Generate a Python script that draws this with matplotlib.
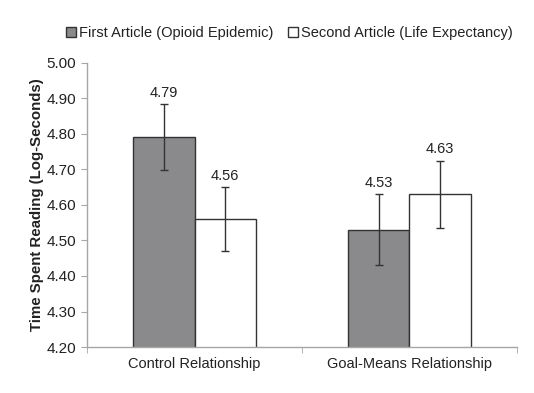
import matplotlib
matplotlib.use("Agg")
import matplotlib.pyplot as plt
import numpy as np

plt.rcParams['font.family'] = ['Liberation Sans', 'DejaVu Sans']

# data
categories = ['Control Relationship', 'Goal-Means Relationship']
series = ['First Article (Opioid Epidemic)', 'Second Article (Life Expectancy)']
first_vals = [4.79, 4.53]
second_vals = [4.56, 4.63]
first_err = [0.093, 0.100]
second_err = [0.090, 0.095]
yticks = [4.20, 4.30, 4.40, 4.50, 4.60, 4.70, 4.80, 4.90, 5.00]

fig = plt.figure(figsize=(5.34, 3.93), dpi=100)
ax = fig.add_axes([0.163, 0.117, 0.805, 0.723])

x = np.arange(len(categories))
w = 0.285
axis_col = '#a6a6a6'
txt_col = '#222222'

ax.bar(x - w/2, first_vals, w, color='#8a8a8c', edgecolor='#333333', linewidth=1.0,
       label=series[0])
ax.bar(x + w/2, second_vals, w, color='white', edgecolor='#333333', linewidth=1.0,
       label=series[1])
ax.errorbar(x - w/2, first_vals, yerr=first_err, fmt='none', ecolor='#333333',
            elinewidth=1.0, capsize=3, capthick=1.0)
ax.errorbar(x + w/2, second_vals, yerr=second_err, fmt='none', ecolor='#333333',
            elinewidth=1.0, capsize=3, capthick=1.0)

for xi, v, e in zip(x - w/2, first_vals, first_err):
    ax.text(xi, v + e + 0.012, f'{v:.2f}', ha='center', va='bottom', fontsize=10.5, color=txt_col)
for xi, v, e in zip(x + w/2, second_vals, second_err):
    ax.text(xi, v + e + 0.012, f'{v:.2f}', ha='center', va='bottom', fontsize=10.5, color=txt_col)

ax.set_ylim(4.20, 5.00)
ax.set_xlim(-0.5, 1.5)
ax.set_yticks(yticks)
ax.set_yticklabels([f'{t:.2f}' for t in yticks], fontsize=11, color=txt_col)
ax.set_xticks(x)
ax.set_xticklabels(categories, fontsize=10.5, color=txt_col)
ax.set_xticks([-0.5, 0.5, 1.5], minor=True)
ax.tick_params(axis='x', which='major', length=0, pad=7)
ax.tick_params(axis='x', which='minor', length=4, direction='out', color=axis_col)
ax.tick_params(axis='y', length=4, color=axis_col, pad=4)

for s in ['top', 'right']:
    ax.spines[s].set_visible(False)
for s in ['left', 'bottom']:
    ax.spines[s].set_color(axis_col)
    ax.spines[s].set_linewidth(1.0)

ax.set_ylabel('Time Spent Reading (Log-Seconds)', fontsize=10.8, fontweight='bold',
              color=txt_col, labelpad=2)

ax.legend(loc='lower center', bbox_to_anchor=(0.47, 1.035), ncol=2, frameon=False,
          fontsize=10.5, handlelength=0.7, handleheight=0.7, handletextpad=0.2,
          columnspacing=1.0, labelcolor=txt_col)

fig.savefig('out.png', dpi=100)
